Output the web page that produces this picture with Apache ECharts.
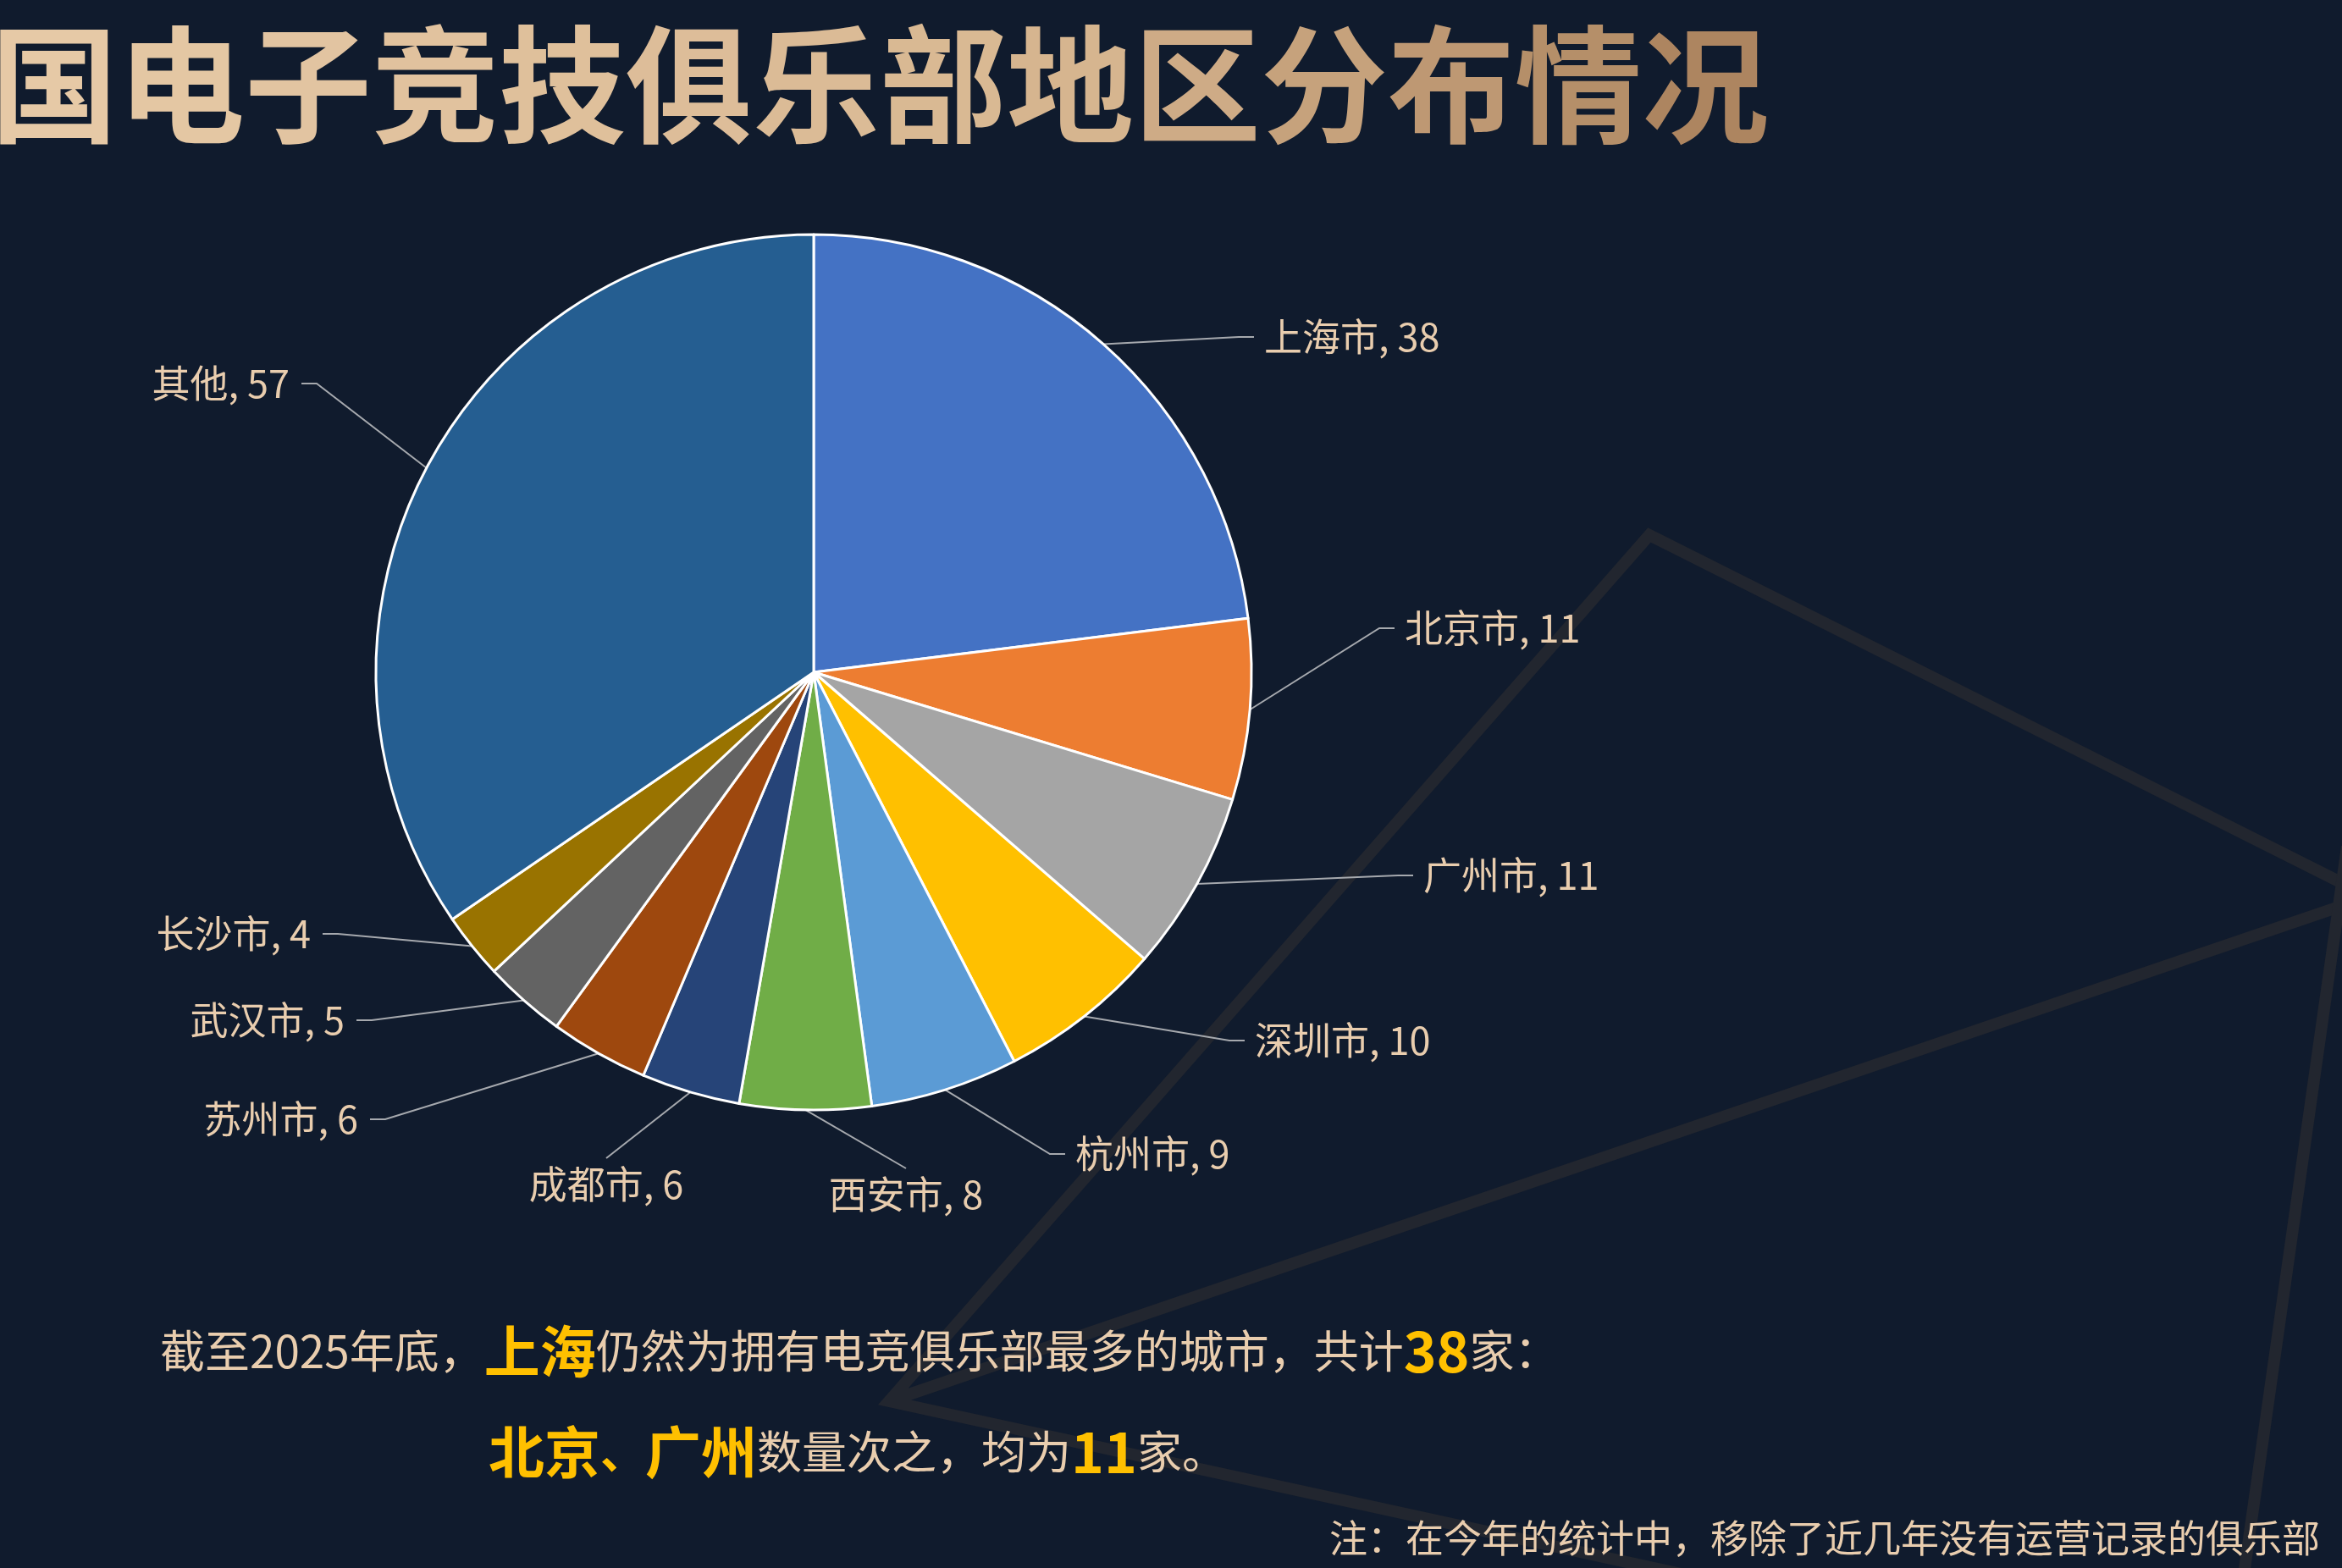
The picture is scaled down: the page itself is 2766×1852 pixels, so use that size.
<!DOCTYPE html>
<html>
<head>
<meta charset="utf-8">
<title>电子竞技俱乐部地区分布情况</title>
<script src="https://cdn.jsdelivr.net/npm/echarts@6/dist/echarts.min.js"></script>
<style>
  html, body { margin: 0; padding: 0; background: #101b2d; }
  #chart { width: 2766px; height: 1852px; }
</style>
</head>
<body>
<div id="chart"></div>
<script>
// 数据
const cities = ['上海市', '北京市', '广州市', '深圳市', '杭州市', '西安市', '成都市', '苏州市', '武汉市', '长沙市', '其他'];
const clubCounts = [38, 11, 11, 10, 9, 8, 6, 6, 5, 4, 57];
const sliceColors = ['#4472c4', '#ed7d31', '#a5a5a5', '#ffc000', '#5b9bd5', '#70ad47',
                     '#264478', '#9e480e', '#636363', '#997300', '#255e91'];

// 标签摆放位置 [x, y, 方向]
const labelPos = [
  [1493, 398, 'left'],
  [1659, 742, 'left'],
  [1681, 1034, 'left'],
  [1482, 1229, 'left'],
  [1270, 1363, 'left'],
  [1070, 1388, 'top'],
  [716, 1376, 'top'],
  [423, 1322, 'right'],
  [407, 1205, 'right'],
  [367, 1103, 'right'],
  [342, 453, 'right']
];

const titleText = '国电子竞技俱乐部地区分布情况';

const beige = '#e9cdae';
const yellow = '#ffc000';
const font = '"Noto Sans CJK SC", "Microsoft YaHei", sans-serif';
const lineColor = '#22262f';

// 标题渐变色：逐字插值
function mix(a, b, t) {
  const pa = [1, 3, 5].map(i => parseInt(a.substr(i, 2), 16));
  const pb = [1, 3, 5].map(i => parseInt(b.substr(i, 2), 16));
  return 'rgb(' + pa.map((v, k) => Math.round(v + (pb[k] - v) * t)).join(',') + ')';
}
const titleRich = {};
let titleStr = '';
titleText.split('').forEach((ch, i) => {
  const t = i / (titleText.length - 1);
  titleRich['c' + i] = {
    fontSize: 150, fontWeight: 'bold', fontFamily: font,
    fill: t < 0.6 ? mix('#e6c9a6', '#d8b791', t / 0.6) : mix('#d8b791', '#ad8560', (t - 0.6) / 0.4)
  };
  titleStr += '{c' + i + '|' + ch + '}';
});

// 说明文字样式
const noteRich = {
  n: { fontSize: 53, fill: beige, fontFamily: font },
  h: { fontSize: 66, fontWeight: 'bold', fill: yellow, fontFamily: font },
  d: { fontSize: 53, fontWeight: 'bold', fill: yellow, fontFamily: font }
};

let myChart = echarts.init(document.getElementById('chart'));

const option = {
  backgroundColor: '#101b2d',
  animation: false,
  textStyle: { fontFamily: font },
  graphic: [
    // 背景装饰线
    {
      type: 'polyline',
      shape: { points: [[1990, 1860], [1050, 1655], [1948, 632], [2798, 1059], [1050, 1655]] },
      style: { stroke: lineColor, lineWidth: 14, fill: null, lineJoin: 'miter' }
    },
    {
      type: 'line',
      shape: { x1: 2772, y1: 1000, x2: 2650, y2: 1860 },
      style: { stroke: lineColor, lineWidth: 14 }
    },
    // 标题
    {
      type: 'text',
      x: -11,
      y: 100,
      style: {
        text: titleStr,
        rich: titleRich,
        verticalAlign: 'middle',
        align: 'left'
      }
    },
    // 说明文字
    {
      type: 'text',
      x: 189,
      y: 1596,
      style: {
        text: '{n|截至2025年底，}{h|上海}{n|仍然为拥有电竞俱乐部最多的城市，共计}{h|38}{n|家：}',
        verticalAlign: 'middle',
        rich: noteRich
      }
    },
    {
      type: 'text',
      x: 577,
      y: 1715,
      style: {
        text: '{h|北京}{d|、}{h|广州}{n|数量次之，均为}{h|11}{n|家。}',
        verticalAlign: 'middle',
        rich: noteRich
      }
    },
    {
      type: 'text',
      x: 2740,
      y: 1817,
      style: {
        text: '注：在今年的统计中，移除了近几年没有运营记录的俱乐部',
        font: '45px ' + font,
        fill: beige,
        align: 'right',
        verticalAlign: 'middle'
      }
    }
  ],
  series: [
    {
      type: 'pie',
      center: [961, 794],
      radius: 517,
      startAngle: 90,
      clockwise: true,
      avoidLabelOverlap: false,
      data: cities.map((name, i) => ({
        name: name,
        value: clubCounts[i],
        itemStyle: { color: sliceColors[i] }
      })),
      itemStyle: { borderColor: '#ffffff', borderWidth: 3 },
      label: {
        show: true,
        position: 'outside',
        formatter: '{b}, {c}',
        color: beige,
        fontSize: 45,
        fontFamily: font
      },
      labelLine: {
        show: true,
        length: 30,
        length2: 20,
        lineStyle: { color: '#a6a9ae', width: 2 }
      },
      // 标签按参考图摆放，引导线从扇区外缘中点引出
      labelLayout: function (params) {
        const p = labelPos[params.dataIndex];
        const start = params.labelLinePoints[0];
        let end, bend, align = p[2], va = 'middle';
        if (p[2] === 'left') {
          end = [p[0] - 12, p[1]];
          bend = [p[0] - 30, p[1]];
        } else if (p[2] === 'right') {
          end = [p[0] + 14, p[1]];
          bend = [p[0] + 32, p[1]];
        } else {
          align = 'center';
          va = 'top';
          end = [p[0], p[1] - 8];
          bend = end;
        }
        return {
          x: p[0],
          y: p[1],
          align: align,
          verticalAlign: va,
          labelLinePoints: [start, bend, end]
        };
      }
    }
  ]
};

option && myChart.setOption(option);
window.addEventListener('resize', function () { myChart && myChart.resize(); });
</script>
</body>
</html>
